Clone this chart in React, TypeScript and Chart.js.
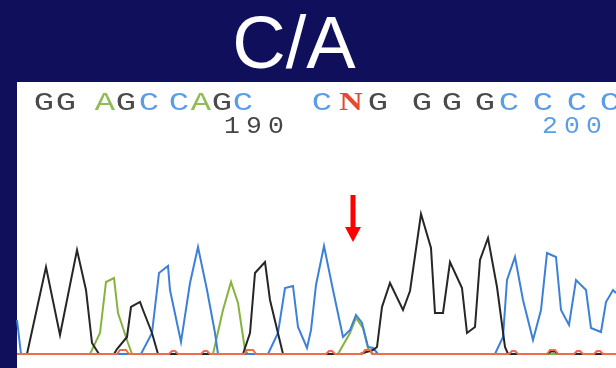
import { useEffect, useRef } from "react";
import { Chart, registerables } from "chart.js";

Chart.register(...registerables);

const TITLE = "C/A";

// Base calls along the read and the scan position each is printed at
const baseCalls = ["G", "G", "A", "G", "C", "C", "A", "G", "C", "C", "N", "G", "G", "G", "G", "C", "C", "C", "C"];
const baseScans = [27, 49, 88, 109, 132, 162, 184, 205, 226, 305, 334, 361, 405, 435, 468, 492, 526, 560, 593];

// Base-number ruler
const positionLabels = ["190", "200"];
const positionScans = [237, 555];

// Scan of the mixed C/A call
const mixedCallScan = 336;

// Fluorescence traces: [scan, signal]
const traceG: [number, number][] = [
  [0, 0], [10, 0], [29, 870], [43, 190], [60, 1040], [69, 640], [75, 110], [82, 0],
  [97, 0], [100, 50], [110, 170], [114, 470], [123, 520], [126, 440], [135, 210], [141, 0],
  [226, 0], [233, 210], [238, 810], [248, 920], [253, 540], [266, 0],
  [343, 0], [356, 40], [360, 70], [365, 470], [373, 710], [386, 440], [393, 630],
  [404, 1400], [414, 1060], [418, 410], [426, 410], [433, 920], [445, 660], [450, 210],
  [458, 270], [463, 940], [471, 1160], [480, 670], [488, 70], [491, 0],
  [530, 0], [534, 25], [538, 25], [541, 0], [599, 0],
];

const traceA: [number, number][] = [
  [0, 0], [73, 0], [83, 210], [89, 720], [97, 760], [101, 410], [111, 110], [115, 0],
  [196, 0], [206, 440], [214, 720], [221, 510], [228, 40], [231, 0],
  [321, 0], [333, 210], [339, 360], [346, 260], [351, 60], [355, 0], [599, 0],
];

const traceC: [number, number][] = [
  [0, 340], [4, 0], [124, 0], [135, 210], [142, 810], [151, 880], [153, 640], [164, 120],
  [173, 710], [181, 1070], [190, 640], [198, 210], [201, 0],
  [251, 0], [261, 210], [268, 660], [276, 680], [281, 270], [290, 60], [294, 240],
  [299, 690], [307, 1080], [316, 640], [326, 170], [333, 240], [339, 390], [345, 310],
  [351, 70], [356, 60], [361, 0],
  [478, 0], [486, 170], [490, 740], [498, 970], [506, 540], [516, 140], [524, 440],
  [530, 1010], [539, 970], [544, 440], [552, 290], [559, 740], [569, 640], [574, 260],
  [584, 220], [589, 520], [596, 640], [599, 610],
];

const traceT: [number, number][] = [
  [0, 0], [100, 0], [103, 40], [109, 40], [112, 0], [152, 0], [155, 30], [158, 30], [161, 0],
  [184, 0], [187, 30], [190, 30], [193, 0], [227, 0], [230, 40], [236, 40], [239, 0],
  [309, 0], [312, 30], [315, 30], [318, 0], [345, 0], [348, 40], [353, 40], [356, 0],
  [492, 0], [495, 30], [498, 30], [501, 0], [530, 0], [533, 40], [538, 40], [541, 0],
  [557, 0], [560, 30], [563, 30], [566, 0], [577, 0], [580, 30], [583, 30], [586, 0], [599, 0],
];

const BASE_COLORS: Record<string, string> = {
  G: "#4a4a4a",
  A: "#8fbd55",
  C: "#5c9de6",
  N: "#e8482b",
};

const toPoints = (t: [number, number][]) => t.map(([x, y]) => ({ x, y }));

const framePlugin = {
  id: "frame",
  beforeDraw(chart: any) {
    const { ctx, width, height, chartArea } = chart;
    ctx.save();
    ctx.fillStyle = "#100f5c";
    ctx.fillRect(0, 0, width, height);
    ctx.fillStyle = "#ffffff";
    ctx.fillRect(chartArea.left, 82, chartArea.right - chartArea.left, height - 82);
    ctx.fillStyle = "#ffffff";
    ctx.font = '74px "Liberation Sans", Arial, sans-serif';
    ctx.textAlign = "center";
    ctx.textBaseline = "alphabetic";
    ctx.fillText(TITLE, 294, 68);
    ctx.restore();
  },
  afterDatasetsDraw(chart: any) {
    const { ctx } = chart;
    const xs = chart.scales.x;
    ctx.save();
    ctx.textAlign = "center";
    ctx.textBaseline = "alphabetic";
    // base calls
    baseCalls.forEach((b, i) => {
      const px = xs.getPixelForValue(baseScans[i]);
      ctx.save();
      ctx.translate(px, 110);
      ctx.scale(1.3, 1);
      ctx.fillStyle = BASE_COLORS[b];
      ctx.font = b === "N" ? 'bold 25px "Liberation Serif", serif' : '26px "Liberation Mono", monospace';
      ctx.fillText(b, 0, 0);
      ctx.restore();
    });
    // ruler numbers
    positionLabels.forEach((lab, i) => {
      const px = xs.getPixelForValue(positionScans[i]);
      ctx.fillStyle = i === 0 ? "#454545" : "#5c9de6";
      ctx.font = '23px "Liberation Mono", monospace';
      const digits = lab.split("");
      digits.forEach((d, k) => {
        const dx = px + (k - (digits.length - 1) / 2) * 22;
        ctx.save();
        ctx.translate(dx, 133);
        ctx.scale(1.15, 1);
        ctx.fillText(d, 0, 0);
        ctx.restore();
      });
    });
    // arrow marking the mixed call
    const ax = xs.getPixelForValue(mixedCallScan);
    ctx.fillStyle = "#ff0000";
    ctx.fillRect(ax - 2.5, 195, 5, 33);
    ctx.beginPath();
    ctx.moveTo(ax - 8, 227);
    ctx.lineTo(ax + 8, 227);
    ctx.lineTo(ax, 242);
    ctx.closePath();
    ctx.fill();
    ctx.restore();
  },
};

export default function App() {
  const canvasRef = useRef<HTMLCanvasElement | null>(null);

  useEffect(() => {
    document.body.style.margin = "0";
    const canvas = canvasRef.current;
    if (!canvas) return;
    const line = (label: string, data: [number, number][], color: string, order: number) => ({
      label,
      data: toPoints(data),
      borderColor: color,
      borderWidth: 2,
      pointRadius: 0,
      tension: 0,
      fill: false,
      clip: false as any,
      order,
    });
    const chart = new Chart(canvas, {
      type: "line",
      data: {
        datasets: [
          line("T", traceT, "#f06a4c", 0),
          line("G", traceG, "#262626", 1),
          line("C", traceC, "#3c80d8", 2),
          line("A", traceA, "#86b33f", 3),
        ],
      },
      options: {
        animation: false,
        responsive: false,
        devicePixelRatio: 1,
        layout: { padding: { left: 17, right: 0, top: 190, bottom: 14 } },
        scales: {
          x: { type: "linear", min: 0, max: 599, display: false },
          y: { min: 0, max: 1640, display: false },
        },
        plugins: { legend: { display: false }, tooltip: { enabled: false } },
        elements: { point: { radius: 0 }, line: { borderJoinStyle: "miter" } },
      },
      plugins: [framePlugin],
    });
    return () => chart.destroy();
  }, []);

  return (
    <div style={{ position: "fixed", left: 0, top: 0, width: 616, height: 368 }}>
      <canvas ref={canvasRef} width={616} height={368} style={{ display: "block" }} />
    </div>
  );
}
